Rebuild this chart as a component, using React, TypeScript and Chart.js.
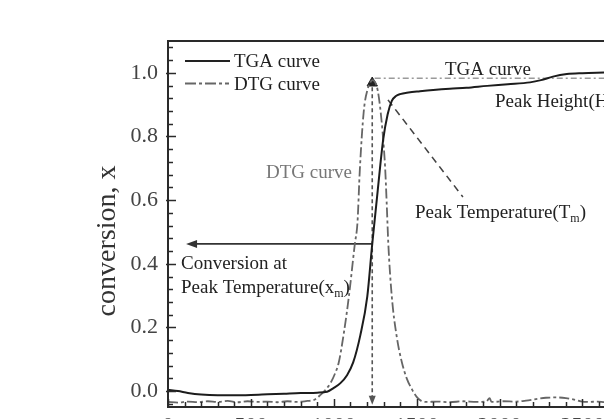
import React, { useEffect, useRef } from 'react';
import { Chart, registerables } from 'chart.js';

Chart.register(...registerables);

// ---- data ----
const tgaX = [0, 60, 120, 200, 300, 400, 500, 600, 700, 800, 900, 960, 1000, 1040, 1080, 1117, 1160, 1202, 1232, 1265, 1298, 1325, 1350, 1375, 1400, 1450, 1520, 1600, 1700, 1800, 1925, 2050, 2184, 2250, 2322, 2406, 2500, 2630];
const tgaY = [0.004, 0.0, -0.006, -0.011, -0.013, -0.013, -0.012, -0.01, -0.008, -0.006, -0.005, -0.002, 0.01, 0.025, 0.05, 0.09, 0.175, 0.297, 0.4625, 0.63, 0.79, 0.87, 0.912, 0.927, 0.933, 0.938, 0.942, 0.946, 0.95, 0.953, 0.959, 0.964, 0.97, 0.977, 0.988, 0.996, 0.999, 1.001];

const dtgX = [0, 60, 120, 180, 240, 300, 360, 420, 480, 540, 600, 660, 720, 780, 840, 880, 920, 950, 980, 1005, 1030, 1060, 1091, 1127, 1143, 1157, 1181, 1205, 1223, 1235, 1250, 1265, 1280, 1295, 1310, 1320, 1329, 1350, 1380, 1411, 1440, 1471, 1500, 1525, 1560, 1620, 1700, 1780, 1860, 1920, 1940, 1950, 1965, 2020, 2100, 2160, 2220, 2280, 2340, 2400, 2450, 2490, 2540, 2590, 2630];
const dtgY = [-0.034, -0.036, -0.033, -0.035, -0.032, -0.034, -0.031, -0.035, -0.032, -0.034, -0.033, -0.035, -0.032, -0.034, -0.031, -0.028, -0.012, 0.004, 0.025, 0.052, 0.09, 0.18, 0.297, 0.4625, 0.53, 0.694, 0.88, 0.95, 0.972, 0.977, 0.97, 0.945, 0.89, 0.81, 0.7, 0.58, 0.4625, 0.297, 0.17, 0.09, 0.04, 0.006, -0.018, -0.03, -0.034, -0.033, -0.035, -0.032, -0.034, -0.033, -0.022, -0.033, -0.034, -0.032, -0.033, -0.03, -0.025, -0.021, -0.02, -0.022, -0.027, -0.032, -0.034, -0.033, -0.035];

const xTickLabels = [0, 500, 1000, 1500, 2000, 2500];
const yTickLabels = [0, 0.2, 0.4, 0.6, 0.8, 1.0];

const peakTemp = 1232;        // Tm
const peakHeight = 0.983;     // Hm
const peakMarkerY = 0.968;
const convAtPeak = 0.4625;    // xm
const arrowTipX = 109;
const pointerStart = [1327, 0.915];
const pointerEnd = [1779, 0.61];

const X_MIN = 0, X_MAX = 2630, Y_MIN = -0.05, Y_MAX = 1.1;

const SERIF = '"Liberation Serif", "DejaVu Serif", serif';

const zip = (xs: number[], ys: number[]) => xs.map((x, i) => ({ x, y: ys[i] }));

function drawRich(ctx: CanvasRenderingContext2D, x: number, y: number, segs: Array<[string, boolean]>, size: number) {
  let cx = x;
  for (const [t, sub] of segs) {
    ctx.font = `${sub ? Math.round(size * 0.62) : size}px ${SERIF}`;
    ctx.fillText(t, cx, sub ? y + size * 0.22 : y);
    cx += ctx.measureText(t).width;
  }
}

const decor = {
  id: 'decor',
  afterDraw(chart: any) {
    const ctx: CanvasRenderingContext2D = chart.ctx;
    const { left, right, top, bottom } = chart.chartArea;
    const xs = chart.scales.x, ys = chart.scales.y;
    ctx.save();
    // frame
    ctx.strokeStyle = '#2a2a2a';
    ctx.lineWidth = 2;
    ctx.beginPath();
    ctx.moveTo(left, bottom + 1);
    ctx.lineTo(left, top);
    ctx.lineTo(right + 2, top);
    ctx.stroke();
    ctx.beginPath();
    ctx.moveTo(left - 1, bottom);
    ctx.lineTo(right + 2, bottom);
    ctx.stroke();

    // y ticks (inward)
    ctx.lineWidth = 1.5;
    for (let k = -1; k <= 27; k++) {
      const v = k * 0.04;
      const py = Math.round(ys.getPixelForValue(v)) + 0.5;
      const major = k % 5 === 0;
      ctx.beginPath();
      ctx.moveTo(left - (major ? 2 : 0), py);
      ctx.lineTo(left + (major ? 8 : 5), py);
      ctx.stroke();
    }
    // x ticks (inward)
    for (let v = 0; v <= 2600; v += 100) {
      const px = Math.round(xs.getPixelForValue(v)) + 0.5;
      const major = v % 500 === 0;
      ctx.beginPath();
      ctx.moveTo(px, bottom);
      ctx.lineTo(px, bottom - (major ? 8 : 5));
      ctx.stroke();
    }
    // x tick labels (cut off by the frame of the picture)
    ctx.fillStyle = '#444';
    ctx.font = `22px ${SERIF}`;
    ctx.textAlign = 'center';
    ctx.textBaseline = 'alphabetic';
    for (const v of xTickLabels) {
      ctx.fillText(String(v), xs.getPixelForValue(v), bottom + 25);
    }

    // arrowheads
    const tx = xs.getPixelForValue(arrowTipX);
    const ty = ys.getPixelForValue(convAtPeak);
    ctx.fillStyle = '#333';
    ctx.beginPath();
    ctx.moveTo(tx, ty);
    ctx.lineTo(tx + 11, ty - 4);
    ctx.lineTo(tx + 11, ty + 4);
    ctx.closePath();
    ctx.fill();
    const vx = xs.getPixelForValue(peakTemp);
    const vy = ys.getPixelForValue(-0.043);
    ctx.fillStyle = '#555';
    ctx.beginPath();
    ctx.moveTo(vx, vy);
    ctx.lineTo(vx - 3.5, vy - 9);
    ctx.lineTo(vx + 3.5, vy - 9);
    ctx.closePath();
    ctx.fill();

    // legend
    ctx.lineWidth = 2;
    ctx.strokeStyle = '#222';
    ctx.setLineDash([]);
    ctx.beginPath();
    ctx.moveTo(185, 61);
    ctx.lineTo(230, 61);
    ctx.stroke();
    ctx.strokeStyle = '#666';
    ctx.setLineDash([11, 3, 3, 3]);
    ctx.beginPath();
    ctx.moveTo(185, 83.5);
    ctx.lineTo(229, 83.5);
    ctx.stroke();
    ctx.setLineDash([]);

    ctx.textAlign = 'left';
    ctx.textBaseline = 'alphabetic';
    ctx.fillStyle = '#1e1e1e';
    ctx.font = `19px ${SERIF}`;
    ctx.fillText('TGA curve', 234, 67);
    ctx.fillText('DTG curve', 234, 90);

    // annotations
    ctx.fillStyle = '#222';
    ctx.fillText('TGA curve', 445, 75);
    drawRich(ctx, 495, 107, [['Peak Height(H', false], ['m', true], [')', false]], 19);
    drawRich(ctx, 415, 218, [['Peak Temperature(T', false], ['m', true], [')', false]], 19);
    ctx.font = `19px ${SERIF}`;
    ctx.fillText('Conversion at', 181, 269);
    drawRich(ctx, 181, 293, [['Peak Temperature(x', false], ['m', true], [')', false]], 19);
    ctx.fillStyle = '#777';
    ctx.font = `19px ${SERIF}`;
    ctx.textAlign = 'right';
    ctx.fillText('DTG curve', 352, 178);

    // y-axis title
    ctx.fillStyle = '#333';
    ctx.font = `28px ${SERIF}`;
    ctx.textAlign = 'center';
    ctx.translate(115, 241);
    ctx.rotate(-Math.PI / 2);
    ctx.fillText('conversion, x', 0, 0);
    ctx.restore();
  },
};

export default function App() {
  const ref = useRef<HTMLCanvasElement>(null);
  useEffect(() => {
    if (!ref.current) return;
    const chart = new Chart(ref.current, {
      type: 'line',
      data: {
        datasets: [
          {
            label: 'TGA curve',
            data: zip(tgaX, tgaY),
            borderColor: '#1c1c1c',
            borderWidth: 2,
            pointRadius: 0,
            pointHoverRadius: 0,
            cubicInterpolationMode: 'monotone',
          },
          {
            label: 'DTG curve',
            data: zip(dtgX, dtgY),
            borderColor: '#666',
            borderWidth: 1.8,
            borderDash: [10, 3, 3, 3],
            pointRadius: 0,
            pointHoverRadius: 0,
            cubicInterpolationMode: 'monotone',
          },
          {
            label: 'Peak Height',
            data: [{ x: peakTemp + 15, y: peakHeight }, { x: X_MAX, y: peakHeight }],
            borderColor: '#9a9a9a',
            borderWidth: 1.6,
            borderDash: [6, 3, 2, 3],
            pointRadius: 0,
            pointHoverRadius: 0,
          },
          {
            label: 'Peak Temperature drop',
            data: [{ x: peakTemp, y: 0.955 }, { x: peakTemp, y: -0.035 }],
            borderColor: '#555',
            borderWidth: 1.6,
            borderDash: [4, 3],
            pointRadius: 0,
            pointHoverRadius: 0,
          },
          {
            label: 'Conversion arrow',
            data: [{ x: peakTemp, y: convAtPeak }, { x: arrowTipX + 30, y: convAtPeak }],
            borderColor: '#333',
            borderWidth: 1.6,
            pointRadius: 0,
            pointHoverRadius: 0,
          },
          {
            label: 'Tm pointer',
            data: [{ x: pointerStart[0], y: pointerStart[1] }, { x: pointerEnd[0], y: pointerEnd[1] }],
            borderColor: '#444',
            borderWidth: 1.6,
            borderDash: [7, 5],
            pointRadius: 0,
            pointHoverRadius: 0,
          },
          {
            label: 'Peak',
            data: [{ x: peakTemp, y: peakMarkerY }],
            showLine: false,
            pointStyle: 'triangle',
            pointRadius: 6,
            backgroundColor: '#222',
            borderColor: '#222',
            borderWidth: 1,
          },
        ],
      },
      options: {
        responsive: false,
        animation: false,
        devicePixelRatio: 1,
        layout: { autoPadding: false, padding: { left: 0, right: 0, top: 41, bottom: 0 } },
        plugins: { legend: { display: false }, tooltip: { enabled: false } },
        scales: {
          x: {
            type: 'linear',
            min: X_MIN,
            max: X_MAX,
            grid: { display: false, drawTicks: false },
            border: { display: false },
            ticks: { display: false },
            afterBuildTicks: (s: any) => {
              s.ticks = xTickLabels.map((v) => ({ value: v }));
            },
            afterFit: (s: any) => {
              s.height = 53;
              s.paddingLeft = 0;
              s.paddingRight = 0;
            },
          },
          y: {
            type: 'linear',
            min: Y_MIN,
            max: Y_MAX,
            grid: { display: false, drawTicks: false },
            border: { display: false },
            ticks: {
              font: { family: SERIF, size: 22 },
              color: '#444',
              padding: 10,
              callback: (v: any) => Number(v).toFixed(1),
            },
            afterBuildTicks: (s: any) => {
              s.ticks = yTickLabels.map((v) => ({ value: v }));
            },
            afterFit: (s: any) => {
              s.width = 168;
              s.paddingTop = 0;
              s.paddingBottom = 0;
            },
          },
        },
      },
      plugins: [decor],
    } as any);
    return () => chart.destroy();
  }, []);

  return (
    <div style={{ position: 'absolute', left: 0, top: 0, width: 604, height: 419, overflow: 'hidden', background: '#fff' }}>
      <canvas ref={ref} width={604} height={460} style={{ display: 'block' }} />
    </div>
  );
}
